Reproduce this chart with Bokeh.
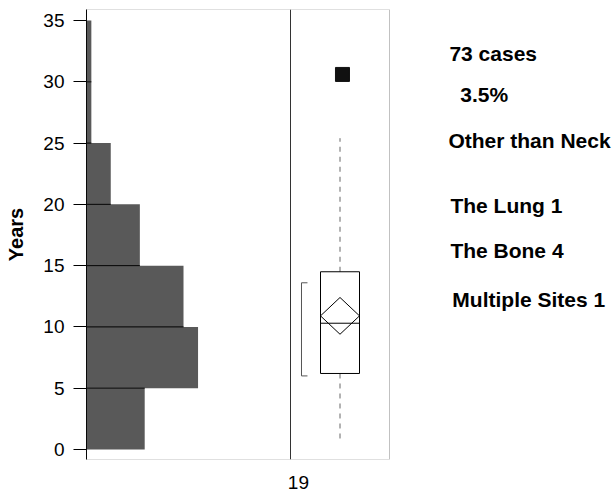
from bokeh.plotting import figure
from bokeh.models import (Range1d, LinearAxis, FixedTicker, Span, BoxAnnotation,
                          CustomJSTickFormatter)
from bokeh.core.properties import value
from bokeh.embed import file_html
from bokeh.resources import INLINE

# ---------------- data ----------------
bin_edges = [0, 5, 10, 15, 20, 25, 30, 35]
bin_counts = [12, 23, 20, 11, 5, 1, 1]

q1, median, q3 = 6.2, 10.3, 14.5
mean_val, mean_ci_low, mean_ci_high = 10.9, 9.4, 12.4
whisker_low, whisker_high = 0.6, 25.4
outliers = [30.6]
shortest_half = [6.0, 13.6]

x_label = "19"
y_label = "Years"
y_ticks = [0, 5, 10, 15, 20, 25, 30, 35]

notes = ["73 cases", "3.5%", "Other than Neck", "The Lung 1", "The Bone  4", "Multiple Sites 1"]

# ---------------- layout constants ----------------
FONT = "Liberation Sans"
note_x = [2.21, 2.43, 2.19, 2.23, 2.23, 2.27]      # box-panel units
note_y = [32.3, 29.0, 25.2, 19.9, 16.2, 12.2]

W, H = 616, 497
FL, FT, FB = 86, 9, 459
count_end = (W - FL) / 4.85
box_start, box_end = -(339.5 - FL) / 49.5, (W - 339.5) / 49.5
half_w = 19.5 / 49.5

p = figure(width=W, height=H, output_backend="svg", toolbar_location=None,
           x_range=Range1d(0, count_end), y_range=Range1d(-0.82, 35.9),
           x_axis_location=None, min_border_left=FL, min_border_right=0,
           min_border_top=FT, min_border_bottom=H - FB)
p.extra_x_ranges = {"box": Range1d(box_start, box_end)}
p.outline_line_color = None
p.grid.visible = False
p.background_fill_color = "white"
p.border_fill_color = "white"

# y axis
ya = p.yaxis[0]
ya.ticker = FixedTicker(ticks=y_ticks)
ya.minor_tick_line_color = None
ya.major_tick_out = 13
ya.major_tick_in = 0
ya.major_tick_line_color = "black"
ya.axis_line_color = "black"
ya.major_label_text_font = FONT
ya.major_label_text_font_size = "19px"
ya.major_label_text_color = "black"
ya.major_label_standoff = 9
ya.axis_label = y_label
ya.axis_label_text_font = FONT
ya.axis_label_text_font_style = "bold"
ya.axis_label_text_font_size = "20px"
ya.axis_label_text_color = "black"
ya.axis_label_standoff = 13

# x axis (group label)
xa = LinearAxis(x_range_name="box", ticker=FixedTicker(ticks=[-0.84]),
                formatter=CustomJSTickFormatter(args=dict(lab=x_label), code="return lab"),
                axis_line_color=None, major_tick_line_color=None, minor_tick_line_color=None,
                major_label_text_font=FONT, major_label_text_font_size="19px",
                major_label_text_color="black", major_label_standoff=10)
p.add_layout(xa, "below")

# histogram
centers = [(a + b) / 2 for a, b in zip(bin_edges[:-1], bin_edges[1:])]
p.hbar(y=centers, height=5, left=0, right=bin_counts, fill_color="#595959", line_color=None)
inner_edges = bin_edges[1:-1]
inner_len = [min(a, b) for a, b in zip(bin_counts[:-1], bin_counts[1:])]
p.segment(x0=[0] * len(inner_edges), y0=inner_edges, x1=inner_len, y1=inner_edges,
          line_color="black", line_width=1)

# panel frame and divider
p.add_layout(BoxAnnotation(left=box_start, right=1.0, x_range_name="box",
                           fill_alpha=0, line_color="#333333", line_width=1))
p.add_layout(Span(location=-1, dimension="height", x_range_name="box",
                  line_color="#333333", line_width=1))

# box plot
p.segment(x0=[0, 0], y0=[q3, q1], x1=[0, 0], y1=[whisker_high, whisker_low],
          x_range_name="box", line_color="#666666", line_dash="5 5", line_width=1)
p.quad(left=-half_w, right=half_w, bottom=q1, top=q3, x_range_name="box",
       fill_color=None, line_color="black", line_width=1)
p.segment(x0=-half_w, y0=median, x1=half_w, y1=median, x_range_name="box",
          line_color="black", line_width=1)
p.patch(x=[0, half_w, 0, -half_w], y=[mean_ci_high, mean_val, mean_ci_low, mean_val],
        x_range_name="box", fill_color=None, line_color="black", line_width=1)
p.scatter(x=[0.05] * len(outliers), y=outliers, x_range_name="box", marker="square",
          size=14, fill_color="#111111", line_color="#111111")
bx0, bx1 = -0.778, -0.657
p.line(x=[bx1, bx0, bx0, bx1],
       y=[shortest_half[1], shortest_half[1], shortest_half[0], shortest_half[0]],
       x_range_name="box", line_color="#555555", line_width=1)

# notes
p.text(x=note_x, y=note_y, text=notes, x_range_name="box",
       text_font=value(FONT), text_font_style="bold", text_font_size="21px",
       text_color="black", text_align="left", text_baseline="middle")

open("out.html", "w").write(file_html(p, INLINE))
